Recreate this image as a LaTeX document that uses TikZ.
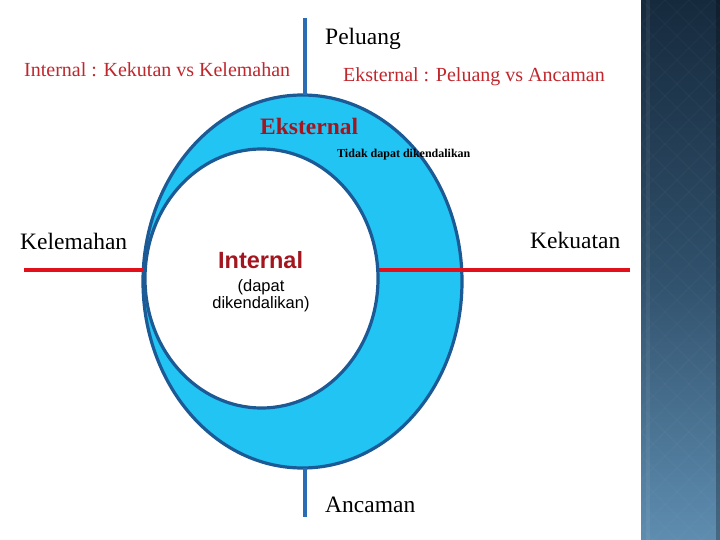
\documentclass[tikz,border=0pt]{standalone}
\usepackage{fontspec}
\setmainfont{Liberation Serif}
\setsansfont{Liberation Sans}
\definecolor{ringfill}{HTML}{22C4F4}
\definecolor{ringline}{HTML}{1C5A96}
\definecolor{axisblue}{HTML}{2A6DB5}
\definecolor{axisred}{HTML}{E2101A}
\definecolor{textred}{HTML}{C0272D}
\definecolor{darkred}{HTML}{A3161F}
\definecolor{stripTop}{HTML}{162A3D}
\definecolor{stripMid}{HTML}{2F4F6A}
\definecolor{stripBot}{HTML}{5E8DB0}
\begin{document}
\begin{tikzpicture}[x=1pt,y=-1pt,
  lbl/.style={inner sep=0pt,anchor=base west},
  redlbl/.style={lbl,text=textred,font=\fontsize{20}{22}\selectfont},
  biglbl/.style={lbl,font=\fontsize{23.5}{26}\selectfont},
  axisv/.style={draw=axisblue,line width=3.5pt},
  axish/.style={draw=axisred,line width=3.5pt},
  ring/.style={draw=ringline,line width=3.2pt}]
\useasboundingbox (0,0) rectangle (720,540);
\fill[white] (0,0) rectangle (720,540);
% right decorative strip
\shade[top color=stripTop,bottom color=stripBot,middle color=stripMid] (641,0) rectangle (720,540);
\begin{scope}
\clip (641,0) rectangle (720,540);
\foreach \k in {-600,-576,...,600}{
  \draw[white,opacity=0.025,line width=1.2pt] (641,\k) -- ++(600,600);
  \draw[white,opacity=0.025,line width=1.2pt] (641,\k) -- ++(600,-600);
}
\end{scope}
\fill[white,opacity=0.06] (646,0) rectangle (650,540);
\fill[black,opacity=0.25] (716,0) rectangle (720,540);
% ring
\path[ring,fill=ringfill] (302.5,281.5) ellipse [x radius=159.5,y radius=186.5];
\path[ring,fill=white] (261.5,278.5) ellipse [x radius=116.5,y radius=129.5];
\coordinate (vtop) at (305,18);
\coordinate (vring1) at (305,95);
\coordinate (vring2) at (305,468);
\coordinate (vbot) at (305,517);
\coordinate (hl1) at (24,270);
\coordinate (hl2) at (144,270);
\coordinate (hr1) at (379,270);
\coordinate (hr2) at (630,270);
\draw[axisv] (vtop) -- (vring1);
\draw[axisv] (vring2) -- (vbot);
\draw[axish] (hl1) -- (hl2);
\draw[axish] (hr1) -- (hr2);
% labels
\node[biglbl] (peluang) at (325,45) {Peluang};
\node[redlbl] (intl) at (24,77) {Internal : Kekutan vs Kelemahan};
\node[redlbl] (extl) at (343,82) {Eksternal : Peluang vs Ancaman};
\node[lbl,text=darkred,font=\fontsize{23.5}{26}\selectfont\bfseries] (eks) at (260,135) {Eksternal};
\node[lbl,font=\fontsize{12}{14}\selectfont\bfseries] (tidak) at (337,158) {Tidak dapat dikendalikan};
\node[biglbl] (kelemahan) at (20,249) {Kelemahan};
\node[biglbl] (kekuatan) at (530,248) {Kekuatan};
\node[lbl,text=darkred,font=\fontsize{23.5}{26}\sffamily\bfseries\selectfont] (internal) at (218,268) {Internal};
\node[inner sep=0pt,anchor=base,align=center,font=\fontsize{16.5}{16.5}\sffamily\selectfont] (dapat) at (261,308) {(dapat\\dikendalikan)};
\node[biglbl] (ancaman) at (325,512) {Ancaman};
\end{tikzpicture}
\end{document}
